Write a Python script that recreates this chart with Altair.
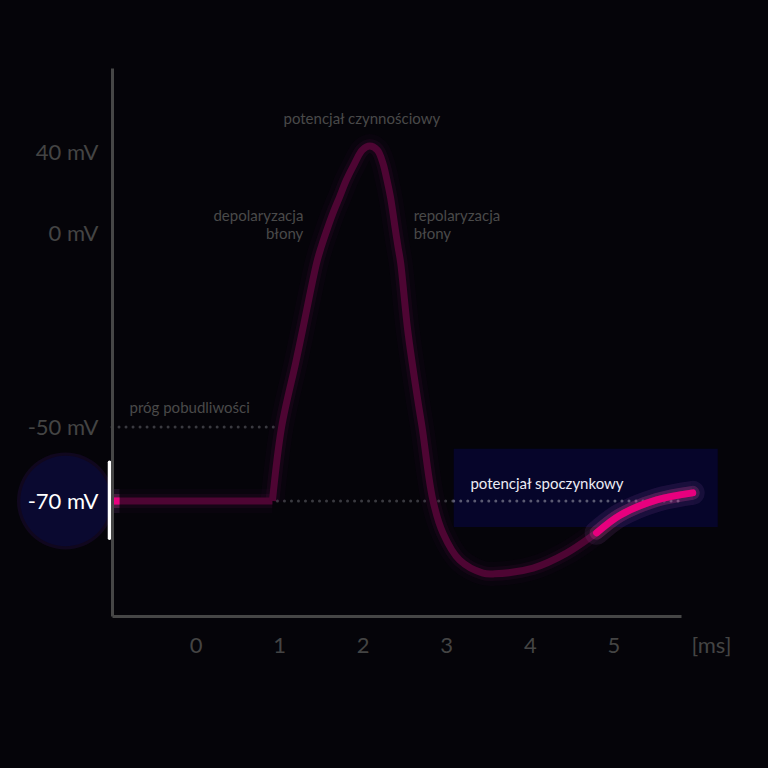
import altair as alt
import pandas as pd

# ---- data ----
t_ms = [-1.0, 0.92, 1.03, 1.198, 1.281, 1.449, 1.505, 1.572, 1.644, 1.725, 1.805, 1.904,
        1.996, 2.084, 2.176, 2.243, 2.291, 2.332, 2.363, 2.392, 2.423, 2.455, 2.539, 2.659,
        2.711, 2.84, 2.96, 3.16, 3.44, 3.58, 4.04, 4.44, 4.80, 5.08, 5.52, 5.95]
v_mV = [-70, -70, -50, -33.5, -25.0, -7.73, -3.53, 1.48, 9.73, 17.93, 26.17, 34.42,
        40.95, 42.86, 40.95, 34.42, 26.17, 17.93, 9.73, 1.48, -3.53, -7.73, -25.0, -43.0,
        -50, -69.7, -78.3, -85.4, -88.8, -89.0, -87.5, -83.6, -78.3, -73.7, -69.7, -67.8]
rest_start_ms = 4.80
start_hi_ms = [-1.0, -0.91]

y_ticks = [-70, -50, 0, 40]
x_ticks = [0, 1, 2, 3, 4, 5]
y_dom = [-100, -70, -50, 0, 40, 80]
y_rng = [548, 433, 359, 165, 84, 0]
x_dom = [-1.0, 5.81]

threshold_line = {"t": [-1.0], "t2": [0.97], "v": [-50]}
rest_line_out = {"t": [0.98], "t2": [3.09], "v": [-70]}
rest_line_in = {"t": [3.09], "t2": [5.83], "v": [-70]}
box = {"t": [3.09], "t2": [6.25], "v": [-55.9], "v2": [-76.8]}
circle = {"t": [-1.557], "v": [-70]}
marker = {"t": [-1.03], "v": [-59.5], "v2": [-79.7]}

label_top = {"t": [1.99], "v": [55.7], "txt": ["potencjał czynnościowy"]}
label_thr = {"t": [-0.79], "v": [-45.1], "txt": ["próg pobudliwości"]}
label_dep = {"t": [1.29], "v": [8.4], "txt": ["depolaryzacja\nbłony"]}
label_rep = {"t": [2.61], "v": [8.4], "txt": ["repolaryzacja\nbłony"]}
label_rest = {"t": [3.29], "v": [-65.4], "txt": ["potencjał spoczynkowy"]}

BG = "#050409"
GRAY = "#464646"
LABEL = "#444444"

curve = pd.DataFrame({"t": t_ms, "v": v_mV})
flat = curve.iloc[:2]
spike = curve.iloc[1:]
bright = curve[curve["t"] >= rest_start_ms]
start_df = pd.DataFrame({"t": start_hi_ms, "v": [-70, -70]})

xs = alt.Scale(domain=x_dom, nice=False, zero=False)
ys = alt.Scale(domain=y_dom, range=y_rng, nice=False, zero=False)

x_axis = alt.Axis(values=x_ticks, grid=False, ticks=False, tickSize=0,
                  domainColor=GRAY, domainWidth=3, labelColor=LABEL,
                  labelFontSize=22, labelPadding=19, labelFont="Lato",
                  title="[ms]", titleX=599, titleY=19, titleAnchor="middle",
                  titleAlign="center", titleBaseline="top", titleFontSize=22,
                  titleFontWeight="normal", titleColor=LABEL, titleFont="Lato")
y_axis = alt.Axis(values=y_ticks, grid=False, ticks=False, tickSize=0,
                  domainColor=GRAY, domainWidth=3, zindex=1,
                  labelColor=alt.expr("datum.value == -70 ? '#ffffff' : '#444444'"),
                  labelFontSize=22, labelPadding=14, labelFont="Lato",
                  labelExpr="datum.value + ' mV'", title=None)

def X():
    return alt.X("t:Q", scale=xs, axis=x_axis)

def Y():
    return alt.Y("v:Q", scale=ys, axis=y_axis)

layers = []

# resting potential box
layers.append(alt.Chart(pd.DataFrame(box)).mark_rect(color="#06052a", clip=False).encode(
    x=X(), x2="t2:Q", y=Y(), y2="v2:Q"))

# dotted reference lines
for d, col in [(threshold_line, "#3a3a40"), (rest_line_out, "#3a3a40"), (rest_line_in, "#5a5a72")]:
    layers.append(alt.Chart(pd.DataFrame(d)).mark_rule(
        color=col, strokeWidth=3, strokeDash=[0.01, 7], strokeCap="round", clip=False
    ).encode(x=X(), x2="t2:Q", y=Y()))

# circle behind -70 mV
layers.append(alt.Chart(pd.DataFrame(circle)).mark_circle(
    color="#2a1050", opacity=0.3, size=9400, clip=False).encode(x=X(), y=Y()))
layers.append(alt.Chart(pd.DataFrame(circle)).mark_circle(
    color="#0a0930", opacity=1, size=8170, clip=False).encode(x=X(), y=Y()))
layers.append(alt.Chart(pd.DataFrame(marker)).mark_rule(
    color="#ffffff", strokeWidth=3.5, strokeCap="round", clip=False
).encode(x=X(), y=Y(), y2="v2:Q"))

# main curve glow + line
for w, col, op in [(24, "#5a1050", 0.06), (14, "#6a1050", 0.12), (7, "#4e0533", 1.0)]:
    for d, interp in [(flat, "linear"), (spike, "catmull-rom")]:
        layers.append(alt.Chart(d).mark_line(
            color=col, strokeWidth=w, opacity=op, interpolate=interp,
            strokeCap="butt", strokeJoin="round", clip=False
        ).encode(x=X(), y=Y()))

# highlighted resting segments
for d, cap, interp in [(bright, "round", "catmull-rom"), (start_df, "butt", "linear")]:
    for w, col, op in [(24, "#b070d0", 0.10), (14, "#ff5ab0", 0.18), (7, "#e8007e", 1.0)]:
        layers.append(alt.Chart(d).mark_line(
            color=col, strokeWidth=w, opacity=op, interpolate=interp,
            strokeCap=cap, clip=False
        ).encode(x=X(), y=Y()))

# annotations
def txt(d, align, color="#4a4a4a"):
    return alt.Chart(pd.DataFrame(d)).mark_text(
        fontSize=15, font="Lato", color=color, baseline="middle", align=align,
        lineBreak="\n", lineHeight=18, clip=False
    ).encode(x=X(), y=Y(), text="txt:N")

layers.append(txt(label_top, "center"))
layers.append(txt(label_thr, "left"))
layers.append(txt(label_dep, "right"))
layers.append(txt(label_rep, "left"))
layers.append(txt(label_rest, "left", "#ececf4"))

chart = alt.layer(*layers).properties(
    width=569, height=548, background=BG,
    autosize=alt.AutoSizeParams(type="none"),
    padding={"left": 112, "top": 68, "right": 87, "bottom": 152},
).configure(font="Lato").configure_view(stroke=None)

chart.save("out.html", embed_options={"renderer": "svg", "actions": False})
